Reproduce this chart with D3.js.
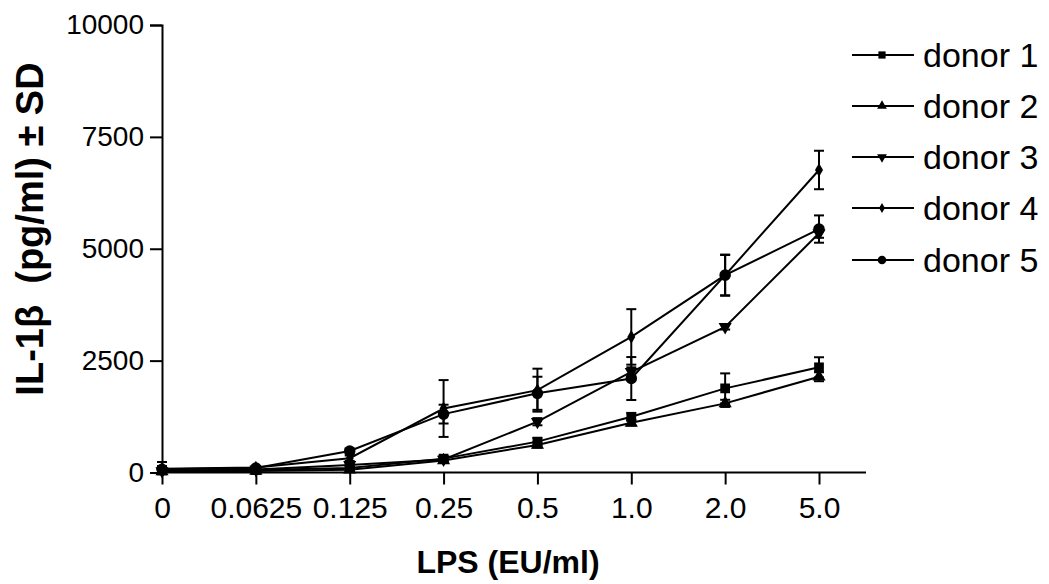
<!DOCTYPE html>
<html>
<head>
<meta charset="utf-8">
<script src="https://cdn.jsdelivr.net/npm/d3@7"></script>
<style>
  html, body { margin: 0; padding: 0; background: #fff; }
  svg { display: block; font-family: "Liberation Sans", Arial, Helvetica, sans-serif; }
</style>
</head>
<body>
<svg id="chart" width="1049" height="584"></svg>
<script>
// LPS doses (categorical x axis)
const doses = ["0", "0.0625", "0.125", "0.25", "0.5", "1.0", "2.0", "5.0"];
const yTicks = [0, 2500, 5000, 7500, 10000];

// IL-1β means (pg/ml) per donor
const donor1 = [45, 55, 100, 310, 690, 1245, 1880, 2350];
const donor2 = [25, 35, 60, 270, 615, 1110, 1545, 2140];
const donor3 = [35, 65, 170, 290, 1135, 2250, 3255, 5345];
const donor4 = [85, 110, 320, 1430, 1840, 3030, 4410, 6760];
const donor5 = [70, 100, 480, 1305, 1770, 2100, 4410, 5440];

// standard deviations per donor
const sd1 = [30, 20, 30, 60, 80, 80, 335, 225];
const sd2 = [15, 15, 20, 40, 60, 60, 80, 100];
const sd3 = [20, 20, 40, 40, 80, 100, 60, 100];
const sd4 = [60, 30, 60, 635, 480, 620, 460, 430];
const sd5 = [165, 40, 60, 210, 370, 480, 450, 305];

const seriesNames = ["donor 1", "donor 2", "donor 3", "donor 4", "donor 5"];
const seriesMeans = [donor1, donor2, donor3, donor4, donor5];
const seriesSD = [sd1, sd2, sd3, sd4, sd5];

const svg = d3.select("#chart");

const x = d3.scalePoint().domain(doses).range([162, 819]);
const y = d3.scaleLinear().domain([0, 10000]).range([472.5, 25]);
const axisEnd = 866;

// marker shapes for each donor
const markerFor = [
  { type: d3.symbolSquare, size: 95, rot: 0 },
  { type: d3.symbolTriangle, size: 75, rot: 0 },
  { type: d3.symbolTriangle, size: 75, rot: 180 },
  { type: d3.symbolDiamond, size: 55, rot: 0 },
  { type: d3.symbolCircle, size: 105, rot: 0 }
];

// Axes
const yAxis = d3.axisLeft(y).tickValues(yTicks).tickFormat(d3.format("d"))
  .tickSizeOuter(0).tickSize(12).tickPadding(6);
const gy = svg.append("g").attr("transform", "translate(162,0)").call(yAxis);
gy.select(".domain").attr("stroke-width", 2);
gy.selectAll(".tick line").attr("stroke-width", 2);
gy.selectAll(".tick text").attr("font-size", 28).attr("fill", "#000")
  .attr("font-family", "Liberation Sans, Arial, sans-serif");

const xAxis = d3.axisBottom(x).tickSizeOuter(0).tickSize(12).tickPadding(12);
const gx = svg.append("g").attr("transform", "translate(0,472.5)").call(xAxis);
gx.select(".domain").remove();
gx.append("line").attr("x1", 162).attr("x2", axisEnd).attr("y1", 0).attr("y2", 0)
  .attr("stroke", "#000").attr("stroke-width", 2);
gx.selectAll(".tick line").attr("stroke-width", 2);
gx.selectAll(".tick text").attr("font-size", 30).attr("fill", "#000")
  .attr("font-family", "Liberation Sans, Arial, sans-serif");

// Axis titles
svg.append("text")
  .attr("x", 508).attr("y", 573)
  .attr("text-anchor", "middle")
  .attr("font-size", 32).attr("font-weight", "bold")
  .text("LPS (EU/ml)");

svg.append("text")
  .attr("transform", "translate(43,229) rotate(-90)")
  .attr("text-anchor", "middle")
  .attr("font-size", 38).attr("font-weight", "bold")
  .attr("xml:space", "preserve")
  .text("IL-1β  (pg/ml) ± SD");

// Series
const line = d3.line().x((d, i) => x(doses[i])).y(d => y(d));
const plot = svg.append("g");

seriesMeans.forEach((vals, s) => {
  const g = plot.append("g");
  // error bars
  vals.forEach((v, i) => {
    const cx = x(doses[i]);
    const sd = seriesSD[s][i];
    const top = y(v + sd), bot = y(Math.max(0, v - sd));
    g.append("line").attr("x1", cx).attr("x2", cx).attr("y1", top).attr("y2", bot)
      .attr("stroke", "#000").attr("stroke-width", 2);
    [top, bot].forEach(yy => {
      g.append("line").attr("x1", cx - 5).attr("x2", cx + 5).attr("y1", yy).attr("y2", yy)
        .attr("stroke", "#000").attr("stroke-width", 2);
    });
  });
  g.append("path").datum(vals).attr("d", line)
    .attr("fill", "none").attr("stroke", "#000").attr("stroke-width", 2);
  const m = markerFor[s];
  g.selectAll("path.mk").data(vals).join("path").attr("class", "mk")
    .attr("d", d3.symbol().type(m.type).size(m.size))
    .attr("transform", (d, i) => `translate(${x(doses[i])},${y(d)}) rotate(${m.rot})`)
    .attr("fill", "#000");
});

// Legend
const legend = svg.append("g");
const rowY = [55, 106, 157, 208, 260];
seriesNames.forEach((name, s) => {
  const yy = rowY[s];
  legend.append("line").attr("x1", 852).attr("x2", 914).attr("y1", yy).attr("y2", yy)
    .attr("stroke", "#000").attr("stroke-width", 2);
  const m = markerFor[s];
  legend.append("path")
    .attr("d", d3.symbol().type(m.type).size(m.size * 0.55))
    .attr("transform", `translate(882,${yy}) rotate(${m.rot})`)
    .attr("fill", "#000");
  legend.append("text").attr("x", 923).attr("y", yy + 12)
    .attr("font-size", 34).attr("fill", "#000")
    .text(name);
});
</script>
</body>
</html>
